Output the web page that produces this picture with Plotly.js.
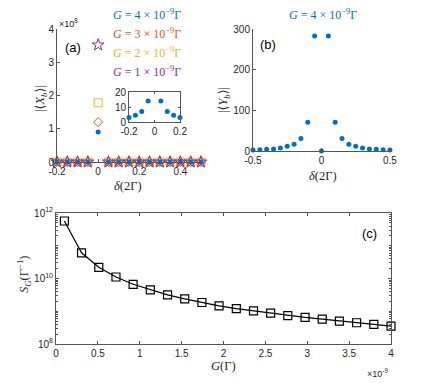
<!DOCTYPE html>
<html>
<head>
<meta charset="utf-8">
<script src="https://cdn.plot.ly/plotly-3.0.1.min.js"></script>
<style>
  html, body { margin: 0; padding: 0; background: #fff; }
  #chart { width: 432px; height: 387px; }
</style>
</head>
<body>
<div id="chart"></div>
<script>
// panel (a): |<X_b>| in units of 1e8, four G values
const deltaA = [-0.2, -0.15, -0.1, -0.05, 0, 0.05, 0.1, 0.15, 0.2, 0.25, 0.3, 0.35, 0.4, 0.45, 0.5];
const xbG4 = [0, 0, 0, 0, 0.9, 0, 0, 0, 0, 0, 0, 0, 0, 0, 0];
const xbG3 = [0, 0, 0, 0, 1.2, 0, 0, 0, 0, 0, 0, 0, 0, 0, 0];
const xbG2 = [0, 0, 0, 0, 1.78, 0, 0, 0, 0, 0, 0, 0, 0, 0, 0];
const xbG1 = [0, 0, 0, 0, 3.52, 0, 0, 0, 0, 0, 0, 0, 0, 0, 0];

// inset of (a): G = 4e-9, zoom near zero
const deltaInset = [-0.2, -0.15, -0.1, -0.05, 0.05, 0.1, 0.15, 0.2];
const xbInset = [3, 4.5, 7, 14, 14, 7, 4.5, 3];

// panel (b): |<Y_b>|, G = 4e-9
const deltaB = [-0.5, -0.45, -0.4, -0.35, -0.3, -0.25, -0.2, -0.15, -0.1, -0.05, 0,
                0.05, 0.1, 0.15, 0.2, 0.25, 0.3, 0.35, 0.4, 0.45, 0.5];
const ybVals = [2.5, 3.3, 4.1, 4.9, 7.4, 11.5, 16.4, 31, 70.6, 283, 0,
                283, 70.6, 31, 16.4, 11.5, 7.4, 4.9, 4.1, 3.3, 2.5];

// panel (c): S_G vs G (G in units of 1e-9 Gamma)
const gVals = [0.1, 0.305, 0.511, 0.716, 0.921, 1.126, 1.332, 1.537, 1.742, 1.947,
               2.153, 2.358, 2.563, 2.768, 2.974, 3.179, 3.384, 3.589, 3.795, 4.0];
const sgVals = [5.7e11, 6.1e10, 2.2e10, 1.11e10, 6.65e9, 4.47e9, 3.15e9, 2.38e9, 1.85e9, 1.46e9,
                1.21e9, 1.03e9, 8.75e8, 7.4e8, 6.46e8, 5.75e8, 5.0e8, 4.45e8, 3.95e8, 3.5e8];

const gLabels = ["4", "3", "2", "1"];
const colors = ["#0072BD", "#D95319", "#EDB120", "#7E2F8E"];

const W = 432, H = 387;
const px = x => x / W;
const py = y => 1 - y / H;

const axisCol = "#555555";
const tickFont = {family: "Liberation Sans, Arial, sans-serif", size: 10, color: "#262626"};
const serif = "Liberation Serif, DejaVu Serif, serif";
const labelFont = {family: serif, size: 12.5, color: "#262626"};

const baseAxis = {
    showgrid: false, zeroline: false, showline: true, linecolor: axisCol, linewidth: 1,
    ticks: "inside", ticklen: 3, tickcolor: axisCol, tickfont: tickFont
};

const traces = [
    {x: deltaA, y: xbG4, type: "scatter", mode: "markers", xaxis: "x", yaxis: "y", cliponaxis: false,
     marker: {symbol: "circle", size: 5, color: colors[0]}},
    {x: deltaA, y: xbG3, type: "scatter", mode: "markers", xaxis: "x", yaxis: "y", cliponaxis: false,
     marker: {symbol: "diamond-open", size: 7, color: colors[1], line: {width: 1}}},
    {x: deltaA, y: xbG2, type: "scatter", mode: "markers", xaxis: "x", yaxis: "y", cliponaxis: false,
     marker: {symbol: "square-open", size: 8, color: colors[2], line: {width: 1}}},
    {x: deltaA, y: xbG1, type: "scatter", mode: "markers", xaxis: "x", yaxis: "y", cliponaxis: false,
     marker: {symbol: "star-open", size: 9, color: colors[3], line: {width: 1}}},
    {x: deltaInset, y: xbInset, type: "scatter", mode: "markers", xaxis: "x4", yaxis: "y4", cliponaxis: false,
     marker: {symbol: "circle", size: 5, color: colors[0]}},
    {x: deltaB, y: ybVals, type: "scatter", mode: "markers", xaxis: "x2", yaxis: "y2", cliponaxis: false,
     marker: {symbol: "circle", size: 5, color: colors[0]}},
    {x: gVals, y: sgVals, type: "scatter", mode: "lines+markers", xaxis: "x3", yaxis: "y3", cliponaxis: false,
     line: {color: "#000", width: 1.2},
     marker: {symbol: "square-open", size: 8, color: "#000", line: {width: 1.2}}}
];

const ann = (x, y, text, extra) => Object.assign({
    xref: "paper", yref: "paper", x: px(x), y: py(y), text: text, showarrow: false,
    xanchor: "center", yanchor: "middle"
}, extra || {});

const annotations = [];
gLabels.forEach((g, i) => {
    annotations.push(ann(147, 15 + i * 18.7,
        `<i>G</i> = ${g} × 10<sup>−9</sup>Γ`,
        {font: {family: serif, size: 12, color: colors[i]}}));
});
annotations.push(
    ann(68, 23, "×10<sup>8</sup>", {font: {family: tickFont.family, size: 9, color: "#262626"}}),
    ann(73, 47, "(a)", {font: {family: tickFont.family, size: 13, color: "#000"}}),
    ann(41, 99, "|⟨<i>X</i><sub><i>b</i></sub>⟩|", {textangle: -90, font: labelFont}),
    ann(128, 186, "<i>δ</i>(2Γ)", {font: labelFont}),
    ann(323, 15, "<i>G</i> = 4 × 10<sup>−9</sup>Γ", {font: {family: serif, size: 12, color: colors[0]}}),
    ann(268, 45, "(b)", {font: {family: tickFont.family, size: 13, color: "#000"}}),
    ann(224, 100, "|⟨<i>Y</i><sub><i>b</i></sub>⟩|", {textangle: -90, font: labelFont}),
    ann(323, 176, "<i>δ</i>(2Γ)", {font: labelFont}),
    ann(369, 233, "(c)", {font: {family: tickFont.family, size: 13, color: "#000"}}),
    ann(24, 275, "<i>S</i><sub><i>G</i></sub>(Γ<sup>−1</sup>)", {textangle: -90, font: labelFont}),
    ann(223, 366, "<i>G</i>(Γ)", {font: labelFont}),
    ann(377, 373, "×10<sup>-9</sup>", {font: {family: tickFont.family, size: 9, color: "#262626"}})
);

const layout = {
    width: W, height: H,
    margin: {l: 0, r: 0, t: 0, b: 0},
    paper_bgcolor: "#fff", plot_bgcolor: "rgba(0,0,0,0)",
    showlegend: false,
    xaxis: Object.assign({}, baseAxis, {
        domain: [px(57), px(203)], range: [-0.2, 0.51], anchor: "y",
        tickvals: [-0.2, 0, 0.2, 0.4], ticktext: ["-0.2", "0", "0.2", "0.4"]
    }),
    yaxis: Object.assign({}, baseAxis, {
        domain: [py(162), py(29)], range: [0, 4], anchor: "x",
        tickvals: [0, 1, 2, 3, 4]
    }),
    xaxis4: Object.assign({}, baseAxis, {
        domain: [px(129), px(180)], range: [-0.2, 0.2], anchor: "y4",
        mirror: "ticks", ticklen: 2,
        tickvals: [-0.2, 0, 0.2], ticktext: ["-0.2", "0", "0.2"]
    }),
    yaxis4: Object.assign({}, baseAxis, {
        domain: [py(122), py(92)], range: [0, 20], anchor: "x4",
        mirror: "ticks", ticklen: 2, tickvals: [0, 10, 20]
    }),
    xaxis2: Object.assign({}, baseAxis, {
        domain: [px(253), px(392)], range: [-0.5, 0.515], anchor: "y2",
        tickvals: [-0.5, 0, 0.5], ticktext: ["-0.5", "0", "0.5"]
    }),
    yaxis2: Object.assign({}, baseAxis, {
        domain: [py(151), py(29)], range: [0, 300], anchor: "x2",
        tickvals: [0, 100, 200, 300]
    }),
    xaxis3: Object.assign({}, baseAxis, {
        domain: [px(56), px(391)], range: [0, 4], anchor: "y3",
        mirror: "ticks",
        tickvals: [0, 0.5, 1, 1.5, 2, 2.5, 3, 3.5, 4],
        ticktext: ["0", "0.5", "1", "1.5", "2", "2.5", "3", "3.5", "4"]
    }),
    yaxis3: Object.assign({}, baseAxis, {
        domain: [py(344), py(213)], type: "log", range: [8, 12], anchor: "x3",
        mirror: "ticks",
        tickvals: [1e8, 1e10, 1e12],
        ticktext: ["10<sup>8</sup>", "10<sup>10</sup>", "10<sup>12</sup>"],
        minor: {ticks: "inside", ticklen: 2, tickcolor: axisCol, showgrid: false, dtick: "D1"}
    }),
    annotations: annotations
};

Plotly.newPlot("chart", traces, layout, {displayModeBar: false, staticPlot: true});
</script>
</body>
</html>
